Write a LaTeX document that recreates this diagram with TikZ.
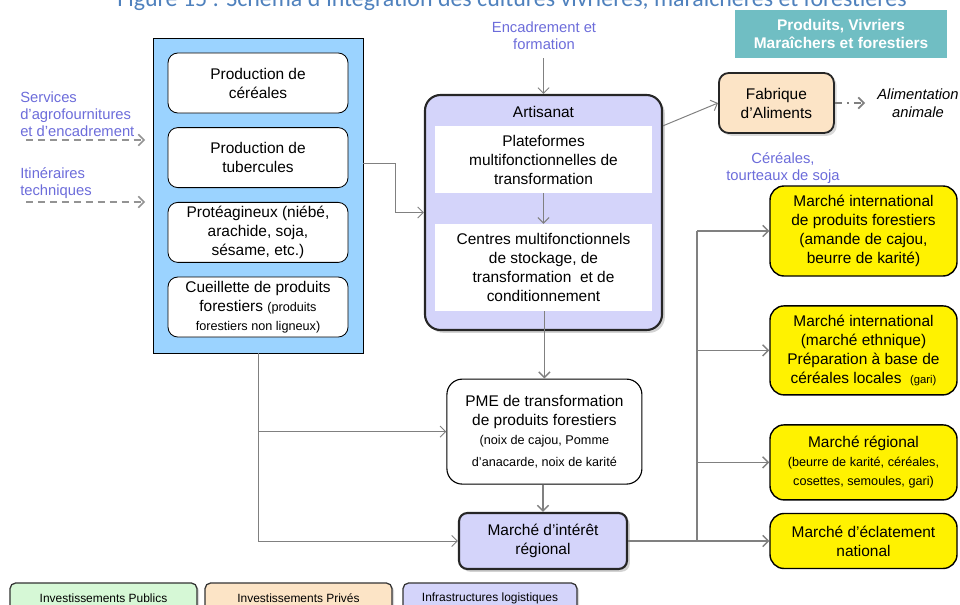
\documentclass[tikz,border=0pt]{standalone}
\usepackage{fontspec}
\setmainfont{Liberation Sans}
\newfontfamily\titrefont{Carlito}
\usepackage{tikz}
\usetikzlibrary{positioning,arrows.meta,shadows}

\definecolor{bleuciel}{RGB}{155,211,255}
\definecolor{lavande}{RGB}{212,212,250}
\definecolor{peche}{RGB}{252,228,198}
\definecolor{vertpale}{RGB}{214,248,214}
\definecolor{turquoise}{RGB}{112,190,195}
\definecolor{mauve}{RGB}{108,108,218}
\definecolor{titrebleu}{RGB}{79,129,189}
\definecolor{trait}{RGB}{128,128,128}

\newcommand{\petit}{\fontsize{9}{10.5}\selectfont}
\tikzstyle{prod} = [rectangle, rounded corners=7pt, draw=black, line width=0.6pt, fill=white, minimum width=4.5cm, minimum height=1.5cm, inner sep=0pt, align=center, font=\fontsize{11}{13.5}\selectfont]
\tikzstyle{marche} = [rectangle, rounded corners=10pt, draw=black, line width=1pt, fill=yellow, minimum width=4.675cm, inner sep=0pt, align=center, font=\fontsize{11}{13.5}\selectfont]
\tikzstyle{legende} = [rectangle, rounded corners=4pt, draw=black!80, line width=0.9pt, minimum width=4.675cm, minimum height=0.75cm, inner sep=0pt, font=\fontsize{8.5}{10}\selectfont, drop shadow={opacity=0.3, shadow xshift=1.5pt, shadow yshift=-1.5pt}]
\tikzstyle{etiq} = [align=left, text=mauve, inner sep=0pt, font=\fontsize{10.5}{12.2}\selectfont]
\tikzstyle{fleche} = [draw=trait, line width=0.7pt, -{Straight Barb[length=4pt,width=8pt]}]
\tikzstyle{pointille} = [draw=trait!85, line width=1.1pt, dash pattern=on 5pt off 3.5pt, -{Straight Barb[length=4pt,width=8pt]}]

\begin{document}
\begin{tikzpicture}
        \useasboundingbox (0,0) rectangle (24,-15.1);
        \clip (0,0) rectangle (24,-15.1);
        \node (titre) at (12.8,-0.16)[anchor=base, text=titrebleu, font=\titrefont\fontsize{17}{19}\selectfont]{Figure 15 : Schéma d’intégration des cultures vivrières, maraîchères et forestières};
        % bloc de production
        \node (big) at (6.45,-4.8875)[draw=black, line width=0.6pt, fill=bleuciel, minimum width=5.25cm, minimum height=7.875cm, inner sep=0pt]{};
        \node (cer) at (6.45,-2.075)[prod]{Production de\\céréales};
        \node (tub) at (6.45,-3.94)[prod]{Production de\\tubercules};
        \node (prot) at (6.45,-5.81)[prod]{Protéagineux (niébé,\\arachide, soja,\\sésame, etc.)};
        \node (cue) at (6.45,-7.675)[prod]{Cueillette de produits\\forestiers {\petit(produits}\\{\petit forestiers non ligneux)}};
        \node (serv) at (0.5,-2.86)[etiq, anchor=west]{Services\\d'agrofournitures\\et d'encadrement};
        \node (itin) at (0.5,-4.575)[etiq, anchor=west]{Itinéraires\\techniques};
        \coordinate (s1) at (0.65,-3.5);
        \coordinate (s2) at (3.625,-3.5);
        \coordinate (i1) at (0.65,-5.05);
        \coordinate (i2) at (3.625,-5.05);
        \draw[pointille] (s1) -- (s2);
        \draw[pointille] (i1) -- (i2);
        % artisanat
        \node (artis) at (13.5875,-5.3125)[draw=black!85, line width=1.5pt, rounded corners=11pt, fill=lavande, minimum width=5.925cm, minimum height=5.875cm, inner sep=0pt, drop shadow={opacity=0.35, shadow xshift=2pt, shadow yshift=-2pt}]{};
        \node (titart) at (13.5875,-2.8)[font=\fontsize{11}{13.5}\selectfont]{Artisanat};
        \node (plat) at (13.5875,-3.99)[fill=white, minimum width=5.425cm, minimum height=1.675cm, inner sep=0pt, align=center, font=\fontsize{11}{13.5}\selectfont]{Plateformes\\multifonctionnelles de\\transformation};
        \node (cent) at (13.5875,-6.69)[fill=white, minimum width=5.425cm, minimum height=2.175cm, inner sep=0pt, align=center, font=\fontsize{11}{13.5}\selectfont]{Centres multifonctionnels\\de stockage, de\\transformation\ \ et de\\conditionnement};
        \node (enc) at (13.6,-0.9)[etiq, align=center]{Encadrement et\\formation};
        \draw[fleche] (enc.south -| artis.north) ++(0,-0.2) -- (artis.north);
        \draw[fleche] (plat) ++(0,-0.84) -- (cent.north);
        \draw[fleche] ([yshift=-0.15cm]tub.east -| big.east) -- ++(0.8,0) |- (artis.west);
        % produits et aliments
        \node (prodv) at (21.025,-0.85)[fill=turquoise, minimum width=5.3cm, minimum height=1.2cm, inner sep=0pt, align=center, text=white, font=\bfseries\fontsize{11}{13}\selectfont]{Produits, Vivriers\\Maraîchers et forestiers};
        \node (fab) at (19.41,-2.575)[draw=black!85, line width=1.3pt, rounded corners=7pt, fill=peche, minimum width=2.875cm, minimum height=1.5cm, inner sep=0pt, align=center, font=\fontsize{11}{13.5}\selectfont, drop shadow={opacity=0.3, shadow xshift=2pt, shadow yshift=-2pt}]{Fabrique\\d’Aliments};
        \node (alim) at (22.95,-2.575)[align=center, font=\itshape\fontsize{10.5}{12.5}\selectfont]{Alimentation\\animale};
        \coordinate (a1) at (21.625,-2.575);
        \draw[draw=trait, line width=1.2pt, dash pattern=on 5pt off 3.5pt on 1.5pt off 3.5pt, -{Straight Barb[length=4pt,width=8pt]}] (fab.east) -- (a1);
        \draw[fleche] (artis.east |- plat.north) -- (fab.west);
        \node (cereal) at (19.575,-4.2)[etiq, align=center]{Céréales,\\tourteaux de soja};
        % PME et marche regional
        \node (pme) at (13.61,-10.79)[draw=black, line width=0.8pt, rounded corners=11pt, fill=white, minimum width=4.875cm, minimum height=2.625cm, inner sep=0pt, align=center, font=\fontsize{11}{13.5}\selectfont]{PME de transformation\\de produits forestiers\\{\petit(noix de cajou, Pomme}\\[2pt]{\petit d’anacarde, noix de karité}};
        \node (mir) at (13.575,-13.525)[draw=black!85, line width=1.5pt, rounded corners=6pt, fill=lavande, minimum width=4.2cm, minimum height=1.4cm, inner sep=0pt, align=center, font=\fontsize{11}{13.5}\selectfont, drop shadow={opacity=0.35, shadow xshift=2pt, shadow yshift=-2pt}]{Marché d’intérêt\\régional};
        \draw[fleche, line width=1pt] (cent.south -| pme.north) -- (pme.north);
        \draw[fleche, line width=1pt] (pme.south -| mir.north) -- (mir.north);
        \draw[fleche] (big.south) |- (mir.west);
        \draw[fleche] (big.south |- pme.west) -- (pme.west);
        % marches
        \node (mA) at (21.5875,-5.775)[marche, minimum height=2.25cm]{Marché international\\de produits forestiers\\(amande de cajou,\\beurre de karité)};
        \node (mB) at (21.5875,-8.76)[marche, minimum height=2.225cm]{Marché international\\(marché ethnique)\\Préparation à base de\\céréales locales\ \ {\fontsize{8}{9}\selectfont(gari)}};
        \node (mC) at (21.5875,-11.56)[marche, minimum height=1.875cm]{Marché régional\\{\petit(beurre de karité, céréales,}\\{\petit cosettes, semoules, gari)}};
        \node (mD) at (21.5875,-13.525)[marche, minimum height=1.375cm]{Marché d’éclatement\\national};
        \coordinate (tronc) at (17.425,-13.525);
        \draw[draw=trait, line width=2pt] (mir.east) -- (tronc);
        \draw[draw=trait, line width=1.4pt] (tronc) -- (tronc |- mA.west);
        \foreach \m in {mA,mB,mC,mD}
            \draw[fleche, line width=1pt] (tronc |- \m.west) -- (\m.west);
        % legende
        \node (lg1) at (2.5875,-14.95)[legende, fill=vertpale]{Investissements Publics};
        \node (lg2) at (7.4625,-14.95)[legende, fill=peche]{Investissements Privés};
        \node (lg3) at (12.25,-14.95)[legende, fill=lavande, minimum width=4.35cm]{Infrastructures logistiques};
\end{tikzpicture}
\end{document}
